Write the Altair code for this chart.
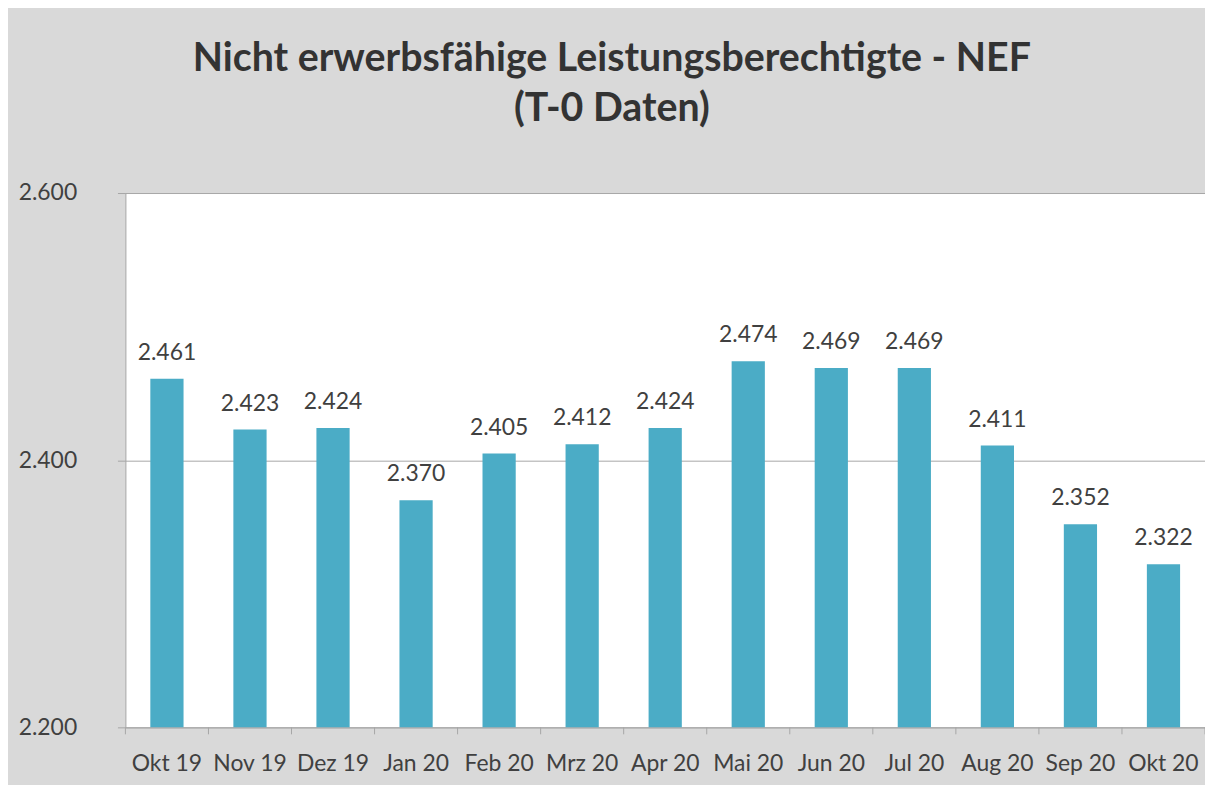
import altair as alt
import pandas as pd

months = ["Okt 19", "Nov 19", "Dez 19", "Jan 20", "Feb 20", "Mrz 20", "Apr 20",
          "Mai 20", "Jun 20", "Jul 20", "Aug 20", "Sep 20", "Okt 20"]
values = [2.461, 2.423, 2.424, 2.370, 2.405, 2.412, 2.424,
          2.474, 2.469, 2.469, 2.411, 2.352, 2.322]
y_ticks = [2.2, 2.4, 2.6]
title_lines = ["Nicht erwerbsfähige Leistungsberechtigte - NEF", "(T-0 Daten)"]

df = pd.DataFrame({"month": months, "value": values})

PLOT_W = 1085
PLOT_H = 537
FONT = "Lato"
TXT = "#404040"
GRID = "#a6a6a6"
BAR = "#4bacc6"

x_enc = alt.X("month:N", sort=months, title=None,
              scale=alt.Scale(paddingInner=0, paddingOuter=0),
              axis=alt.Axis(labelAngle=0, ticks=False, tickSize=0, labelPadding=25,
                            labelFont=FONT, labelFontSize=23, labelColor=TXT,
                            domainColor=GRID, domainWidth=1, grid=False))
y_scale = alt.Scale(domain=[y_ticks[0], y_ticks[-1]], zero=False, nice=False)

bars = alt.Chart(df).mark_bar(color=BAR, width={"band": 0.4}).encode(
    x=x_enc,
    y=alt.Y("value:Q", scale=y_scale, title=None,
            axis=alt.Axis(values=y_ticks, format=".3f", labelFont=FONT, labelFontSize=23,
                          labelColor=TXT, labelPadding=41, tickSize=8, tickColor=GRID,
                          domainColor=GRID, gridColor=GRID, gridWidth=1)),
    y2=alt.datum(y_ticks[0]),
)

labels = alt.Chart(df).mark_text(font=FONT, fontSize=23, color=TXT, baseline="alphabetic",
                                 dy=-19).encode(
    x=alt.X("month:N", sort=months),
    y=alt.Y("value:Q", scale=y_scale),
    text=alt.Text("value:Q", format=".3f"),
)

ticks = alt.Chart(df).mark_rule(color=GRID, strokeWidth=1).encode(
    x=alt.X("month:N", sort=months, bandPosition=0),
    y=alt.value(PLOT_H),
    y2=alt.value(PLOT_H + 7),
)
end_tick = alt.Chart(df[df["month"] == months[-1]].reset_index(drop=True)).mark_rule(
    color=GRID, strokeWidth=1).encode(
    x=alt.X("month:N", sort=months, bandPosition=1),
    y=alt.value(PLOT_H),
    y2=alt.value(PLOT_H + 7),
)

chart = alt.layer(bars, labels, ticks, end_tick).properties(
    width=PLOT_W,
    height=PLOT_H,
    autosize=alt.AutoSizeParams(type="none"),
    padding={"left": 118, "top": 184, "right": 0, "bottom": 56},
    background="#d9d9d9",
    title=alt.TitleParams(title_lines, font=FONT, fontSize=39.5, fontWeight="bold",
                          color="#333333", anchor="middle", frame="bounds",
                          lineHeight=50, offset=53),
).configure_view(fill="white", stroke="transparent")

chart.save("out.html", embed_options={"renderer": "svg", "actions": False})
